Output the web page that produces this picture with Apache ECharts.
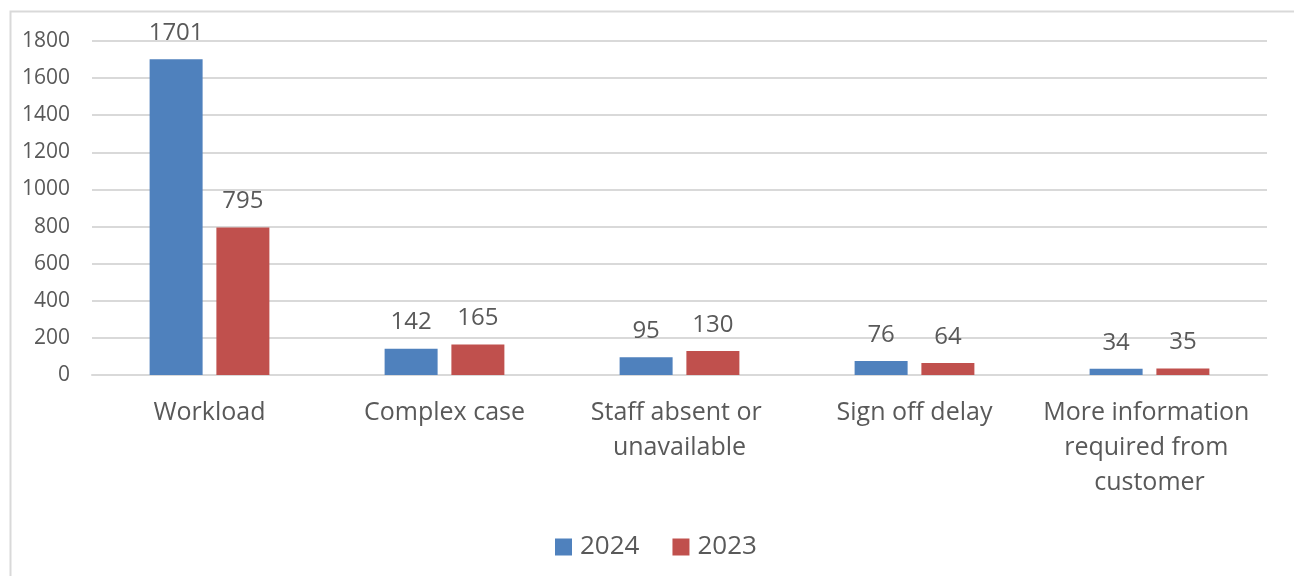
<!DOCTYPE html>
<html>
<head>
<meta charset="utf-8">
<script src="https://cdn.jsdelivr.net/npm/echarts@6/dist/echarts.min.js"></script>
<style>
html,body{margin:0;padding:0;background:#fff;}
#chart{width:1294px;height:576px;}
</style>
</head>
<body>
<div id="chart"></div>
<script>
const categories = ['Workload', 'Complex case', 'Staff absent or unavailable', 'Sign off delay', 'More information required from customer'];
const series2024 = [1701, 142, 95, 76, 34];
const series2023 = [795, 165, 130, 64, 35];
const seriesNames = ['2024', '2023'];
const yTicks = {min: 0, max: 1800, interval: 200};

const FONT = '"Open Sans", sans-serif';
const TXT = '#595959';
const chart = echarts.init(document.getElementById('chart'));
chart.setOption({
  animation: false,
  color: ['#4F81BD', '#C0504D'],
  graphic: [{
    type: 'rect', left: 8, top: 9, silent: true,
    shape: {width: 1320, height: 600},
    style: {fill: 'none', stroke: '#D9D9D9', lineWidth: 2}
  }],
  grid: {left: 92, right: 27, top: 41, bottom: 201, containLabel: false},
  legend: {
    bottom: 11, left: 550,
    itemWidth: 17, itemHeight: 17, itemGap: 33,
    icon: 'rect',
    textStyle: {color: TXT, fontSize: 26, fontFamily: FONT, padding: [0, 0, 0, 3]},
    data: seriesNames
  },
  xAxis: {
    type: 'category',
    data: categories,
    axisLine: {lineStyle: {color: '#D9D9D9', width: 2}},
    axisTick: {show: false},
    axisLabel: {
      color: TXT, fontSize: 25, fontFamily: FONT, margin: 20,
      lineHeight: 35, width: 225, overflow: 'break', interval: 0
    }
  },
  yAxis: {
    type: 'value',
    min: yTicks.min, max: yTicks.max, interval: yTicks.interval,
    axisLine: {show: false},
    axisTick: {show: false},
    splitLine: {lineStyle: {color: '#D9D9D9', width: 2}},
    axisLabel: {color: TXT, fontSize: 21, fontFamily: FONT, margin: 22, formatter: v => String(v)}
  },
  series: [
    {
      name: seriesNames[0], type: 'bar', data: series2024,
      barWidth: 53, barGap: '26%',
      label: {show: true, position: 'top', distance: 14, color: TXT, fontSize: 24, fontFamily: FONT}
    },
    {
      name: seriesNames[1], type: 'bar', data: series2023,
      barWidth: 53,
      label: {show: true, position: 'top', distance: 14, color: TXT, fontSize: 24, fontFamily: FONT}
    }
  ]
});
</script>
</body>
</html>
